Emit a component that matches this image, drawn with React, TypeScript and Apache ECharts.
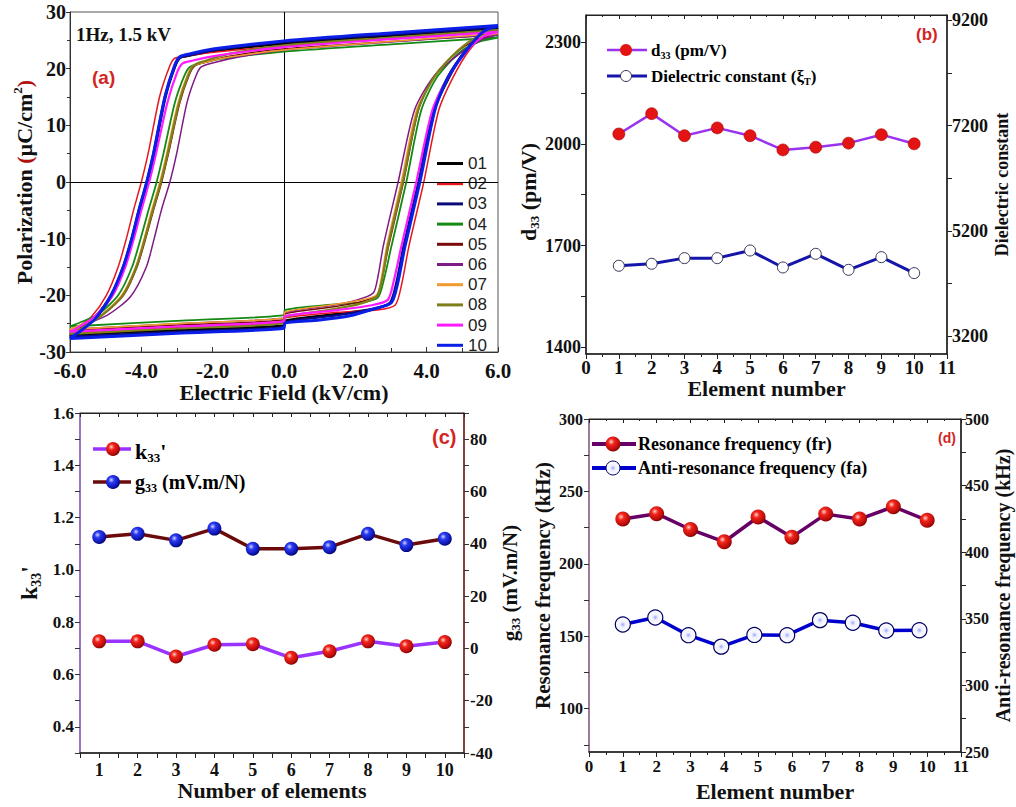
import React, { useEffect, useRef } from "react";
import * as echarts from "echarts";

// ---------------- Panel (a): P–E hysteresis loops  [E (kV/cm), P (µC/cm²)] ----------------
const loopNames = ["01", "02", "03", "04", "05", "06", "07", "08", "09", "10"];
const loopColors = ["#000000", "#e8161b", "#0a0a78", "#138a13", "#7a0a0a", "#7e1a86", "#f39a2e", "#7f7f1a", "#ff1aff", "#0a1ee6"];

const loop01 = [[6, 27.1], [3, 25.8], [0, 24.4], [-1.95, 23.1], [-2.65, 22.3], [-2.92, 21.9], [-3.07, 20.3], [-3.34, 15], [-3.66, 5], [-3.85, 0], [-4.07, -5], [-4.27, -10], [-4.51, -15], [-4.85, -20], [-5.3, -23.8], [-5.75, -26.0], [-6, -27.0], [-3, -26.15], [0, -25.3], [0.02, -24.5], [1.5, -23.3], [2.49, -22.4], [2.99, -21.3], [3.17, -17.8], [3.37, -11.4], [3.79, 0], [4.21, 12.7], [4.64, 18.6], [5.1, 23.3], [5.55, 26.1], [6, 27.1]];
const loop02 = [[6, 26.6], [3, 25.3], [0, 24.0], [-2.1, 22.8], [-2.8, 22.15], [-3.07, 21.8], [-3.22, 20.2], [-3.49, 15], [-3.81, 5], [-4.0, 0], [-4.22, -5], [-4.42, -10], [-4.65, -15], [-4.98, -20], [-5.4, -23.8], [-5.78, -25.6], [-6, -26.5], [-3, -25.65], [0, -24.8], [0.02, -24.0], [1.5, -23.0], [2.62, -22.6], [3.12, -21.7], [3.3, -18], [3.5, -11.4], [3.92, 0], [4.34, 12.7], [4.75, 18.6], [5.2, 23.3], [5.6, 25.7], [6, 26.6]];
const loop03 = [[6, 27.3], [3, 26.0], [0, 24.7], [-1.93, 23.3], [-2.63, 22.4], [-2.9, 22.0], [-3.05, 20.4], [-3.32, 15], [-3.64, 5], [-3.83, 0], [-4.05, -5], [-4.25, -10], [-4.49, -15], [-4.83, -20], [-5.3, -24.0], [-5.75, -26.2], [-6, -27.3], [-3, -26.45], [0, -25.6], [0.02, -24.8], [1.5, -23.5], [2.47, -22.5], [2.97, -21.3], [3.15, -17.8], [3.35, -11.4], [3.77, 0], [4.19, 12.7], [4.6, 18.6], [5.1, 23.3], [5.55, 26.3], [6, 27.3]];
const loop04 = [[6, 25.5], [3, 24.3], [0, 23.0], [-1.67, 21.8], [-2.37, 20.9], [-2.64, 20.3], [-2.79, 18.8], [-3.06, 14], [-3.38, 5], [-3.57, 0], [-3.8, -5], [-4.02, -10], [-4.26, -15], [-4.65, -20], [-5.2, -23.3], [-5.72, -24.8], [-6, -25.5], [-3, -24.5], [0, -23.5], [0.02, -22.6], [1.4, -21.6], [2.13, -21.3], [2.63, -20.4], [2.81, -17], [3.01, -11.4], [3.43, 0], [3.85, 12.7], [4.3, 18.6], [4.95, 23.0], [5.5, 24.8], [6, 25.5]];
const loop05 = [[6, 26.0], [3, 24.8], [0, 23.5], [-1.53, 22.2], [-2.23, 21.1], [-2.5, 20.5], [-2.65, 19.0], [-2.92, 14], [-3.24, 5], [-3.43, 0], [-3.66, -5], [-3.88, -10], [-4.12, -15], [-4.5, -20], [-5.1, -23.5], [-5.7, -25.4], [-6, -26.2], [-3, -25.25], [0, -24.3], [0.02, -23.3], [1.3, -22.1], [2.1, -21.2], [2.6, -20.0], [2.76, -16.8], [2.93, -11.4], [3.35, 0], [3.77, 12.7], [4.2, 18.6], [4.9, 23.2], [5.5, 25.3], [6, 26.0]];
const loop06 = [[6, 26.0], [3, 24.7], [0, 23.3], [-1.3, 22.0], [-2.0, 21.0], [-2.32, 20.3], [-2.47, 18.7], [-2.72, 14], [-3.01, 5], [-3.2, 0], [-3.44, -5], [-3.64, -10], [-3.86, -15], [-4.3, -20.2], [-4.95, -23.5], [-5.65, -25.3], [-6, -26.0], [-3, -25.0], [0, -24.0], [0.02, -23.1], [1.3, -21.8], [2.0, -20.9], [2.5, -19.6], [2.64, -16.5], [2.78, -11.4], [3.2, 0], [3.66, 12.7], [4.2, 18.6], [5.0, 23.0], [5.6, 25.3], [6, 26.0]];
const loop07 = [[6, 26.2], [3, 24.8], [0, 23.3], [-1.58, 22.0], [-2.28, 21.0], [-2.55, 20.5], [-2.7, 19.0], [-2.97, 14], [-3.29, 5], [-3.48, 0], [-3.71, -5], [-3.92, -10], [-4.16, -15], [-4.55, -20], [-5.12, -23.4], [-5.7, -25.2], [-6, -26.0], [-3, -25.0], [0, -24.0], [0.02, -23.0], [1.3, -21.7], [2.1, -20.9], [2.6, -19.9], [2.74, -16.6], [2.88, -11.4], [3.29, 0], [3.72, 12.7], [4.23, 18.6], [4.88, 23.3], [5.4, 25.4], [6, 26.2]];
const loop08 = [[6, 26.8], [3, 25.5], [0, 24.1], [-1.55, 22.6], [-2.25, 21.3], [-2.52, 20.6], [-2.67, 19.0], [-2.94, 14], [-3.26, 5], [-3.45, 0], [-3.68, -5], [-3.9, -10], [-4.14, -15], [-4.52, -20], [-5.12, -23.6], [-5.7, -25.9], [-6, -26.8], [-3, -25.85], [0, -24.9], [0.02, -23.9], [1.3, -22.5], [2.12, -21.5], [2.6, -20.2], [2.76, -16.8], [2.91, -11.4], [3.33, 0], [3.76, 12.7], [4.22, 18.6], [4.92, 23.4], [5.5, 25.9], [6, 26.8]];
const loop09 = [[6, 26.5], [3, 25.2], [0, 23.8], [-1.88, 22.3], [-2.58, 21.4], [-2.85, 20.9], [-3.0, 19.3], [-3.27, 14], [-3.59, 5], [-3.78, 0], [-4.0, -5], [-4.21, -10], [-4.45, -15], [-4.8, -20], [-5.3, -23.7], [-5.75, -25.6], [-6, -26.4], [-3, -25.5], [0, -24.6], [0.02, -23.7], [1.5, -22.6], [2.41, -21.8], [2.91, -20.8], [3.08, -17.4], [3.29, -11.4], [3.71, 0], [4.16, 12.7], [4.62, 18.6], [5.15, 23.3], [5.6, 25.7], [6, 26.5]];
const loop10 = [[6, 27.6], [3, 26.3], [0, 24.9], [-1.95, 23.5], [-2.65, 22.6], [-2.92, 22.1], [-3.07, 20.5], [-3.34, 15], [-3.66, 5], [-3.85, 0], [-4.07, -5], [-4.27, -10], [-4.51, -15], [-4.85, -20], [-5.3, -24.2], [-5.75, -26.5], [-6, -27.6], [-3, -26.7], [0, -25.8], [0.02, -24.9], [1.0, -24.35], [1.85, -23.6], [2.51, -22.4], [3.01, -21.3], [3.19, -17.8], [3.39, -11.4], [3.81, 0], [4.23, 12.7], [4.61, 18.6], [5.12, 23.3], [5.58, 26.5], [6, 27.6]];
const loops = [loop01, loop02, loop03, loop04, loop05, loop06, loop07, loop08, loop09, loop10];

// ---------------- Panels (b)-(d) ----------------
const elements = [1, 2, 3, 4, 5, 6, 7, 8, 9, 10];
const d33 = [2029, 2089, 2024, 2047, 2024, 1982, 1990, 2002, 2027, 2000];
const dielectric = [4536, 4574, 4681, 4681, 4826, 4504, 4763, 4459, 4700, 4397];
const k33 = [0.727, 0.727, 0.669, 0.714, 0.716, 0.664, 0.689, 0.727, 0.708, 0.724];
const g33 = [42.6, 43.8, 41.3, 45.8, 38.1, 38.1, 38.7, 43.8, 39.5, 41.9];
const fr = [230.9, 234.6, 223.7, 215.2, 232.3, 218.4, 234.3, 230.9, 239.4, 230.0];
const faElement = [1, 1.96, 2.94, 3.91, 4.89, 5.86, 6.83, 7.8, 8.79, 9.77];
const fa = [345.7, 351.0, 337.7, 329.1, 337.9, 337.7, 349.0, 347.0, 341.2, 341.4];

// tick / label values
const bLeftLabels = [1400, 1700, 2000, 2300];
const bLeftTicks = [1400, 1550, 1700, 1850, 2000, 2150, 2300];
const bRightLabels = [3200, 5200, 7200, 9200];
const bRightTicks = [3200, 4200, 5200, 6200, 7200, 8200, 9200];
const cXTicks = [0.5, 1, 1.5, 2, 2.5, 3, 3.5, 4, 4.5, 5, 5.5, 6, 6.5, 7, 7.5, 8, 8.5, 9, 9.5, 10, 10.5];
const cLeftLabels = [0.4, 0.6, 0.8, 1.0, 1.2, 1.4, 1.6];
const cLeftTicks = [0.3, 0.4, 0.5, 0.6, 0.7, 0.8, 0.9, 1.0, 1.1, 1.2, 1.3, 1.4, 1.5, 1.6];
const cRightLabels = [-40, -20, 0, 20, 40, 60, 80];
const cRightTicks = [-40, -30, -20, -10, 0, 10, 20, 30, 40, 50, 60, 70, 80, 90];
const dLeftLabels = [100, 150, 200, 250, 300];
const dLeftTicks = [75, 100, 125, 150, 175, 200, 225, 250, 275, 300];

const serif = '"Liberation Serif", "Times New Roman", serif';
const sans = '"Liberation Sans", Arial, sans-serif';

const plain = (v: number) => String(v);

const lab = (size: number, extra: any = {}) => ({
  fontFamily: serif, fontWeight: "bold", fontSize: size, color: "#111", ...extra,
});

const richSet = (size: number, color: string) => ({
  b: { fontFamily: serif, fontWeight: "bold", fontSize: size, color, lineHeight: size + 4 },
  s: { fontFamily: serif, fontWeight: "bold", fontSize: Math.round(size * 0.6), color, lineHeight: 8, verticalAlign: "bottom" },
  p: { fontFamily: serif, fontWeight: "bold", fontSize: Math.round(size * 0.6), color, lineHeight: 8, verticalAlign: "top" },
  r: { fontFamily: serif, fontWeight: "bold", fontSize: size, color: "#b01010", lineHeight: size + 4 },
});

const noSplit = { show: false };

function sphere(kind: "red" | "blue") {
  const stops = kind === "red"
    ? [
        { offset: 0, color: "#ffd2c8" },
        { offset: 0.3, color: "#f2241a" },
        { offset: 0.8, color: "#b40a0a" },
        { offset: 1, color: "#6e0000" },
      ]
    : [
        { offset: 0, color: "#d0d6ff" },
        { offset: 0.3, color: "#2a3af2" },
        { offset: 0.8, color: "#0a12a8" },
        { offset: 1, color: "#000050" },
      ];
  return new echarts.graphic.RadialGradient(0.38, 0.35, 0.7, stops);
}

function hollow() {
  return new echarts.graphic.RadialGradient(0.5, 0.5, 0.5, [
    { offset: 0, color: "#9aa6ff" },
    { offset: 0.35, color: "#eef0ff" },
    { offset: 1, color: "#ffffff" },
  ]);
}

function topMirror(gridIndex: number, min: number, max: number, color = "#222", ticks?: number[]) {
  return {
    gridIndex, type: "value", position: "top", min, max,
    ...(ticks ? {} : { interval: 1 }),
    axisLine: { show: true, onZero: false, lineStyle: { color, width: 1.2 } },
    axisTick: ticks ? { show: true, inside: true, length: 4, customValues: ticks } : { show: true, inside: true, length: 4 },
    minorTick: ticks ? { show: false } : { show: true, splitNumber: 2, length: 2 },
    axisLabel: { show: false },
    splitLine: noSplit,
  };
}

function buildOption(): any {
  const loopSeries = loops.map((data, i) => ({
    name: loopNames[i],
    type: "line",
    xAxisIndex: 0,
    yAxisIndex: 0,
    data,
    symbol: "none",
    smooth: 0.25,
    lineStyle: { color: loopColors[i], width: [2.4, 1.5, 2.4, 1.8, 1.5, 1.5, 1.6, 2.2, 2.2, 3][i] },
    itemStyle: { color: loopColors[i] },
    z: 2 + i,
    ...(i === 0
      ? {
          markLine: {
            silent: true,
            symbol: ["none", "none"],
            label: { show: false },
            lineStyle: { color: "#000", width: 1, type: "solid" },
            data: [{ xAxis: 0 }, { yAxis: 0 }],
          },
        }
      : {}),
  }));

  const legendText = (x: number, y: number, text: string, color: string, size: number) => ({
    type: "text", x, y, z: 100,
    style: { text, rich: richSet(size, color), verticalAlign: "middle", align: "left" },
  });
  const legendLine = (x1: number, x2: number, y: number, stroke: string, w: number) => ({
    type: "line", z: 99, shape: { x1, y1: y, x2, y2: y }, style: { stroke, lineWidth: w },
  });
  const legendDot = (cx: number, cy: number, r: number, fill: any, stroke?: string) => ({
    type: "circle", z: 100, shape: { cx, cy, r }, style: { fill, stroke: stroke || null, lineWidth: stroke ? 1 : 0 },
  });
  const panelTag = (x: number, y: number, text: string, size: number) => ({
    type: "text", x, y, z: 100,
    style: { text, fontFamily: sans, fontWeight: "bold", fontSize: size, fill: "#d42424", verticalAlign: "middle", align: "left" },
  });

  return {
    animation: false,
    backgroundColor: "#ffffff",
    grid: [
      { left: 70, top: 12, width: 428, height: 340, show: true, borderColor: "#555", borderWidth: 1 },
      { left: 586, top: 15, width: 361, height: 339, show: true, borderColor: "#222", borderWidth: 1 },
      { left: 80, top: 413, width: 384, height: 340, show: true, borderColor: "#222", borderWidth: 1 },
      { left: 589, top: 419, width: 372, height: 333, show: true, borderColor: "#222", borderWidth: 1 },
    ],
    legend: {
      data: loopNames,
      orient: "vertical",
      left: 437,
      top: 155,
      padding: 0,
      icon: "rect",
      itemWidth: 26,
      itemHeight: 3,
      itemGap: 3.2,
      textStyle: { fontFamily: sans, fontSize: 17, lineHeight: 16, color: "#222" },
      backgroundColor: "transparent",
      selectedMode: false,
    },
    xAxis: [
      // (a)
      {
        gridIndex: 0, type: "value", min: -6, max: 6, interval: 2,
        axisLine: { onZero: false, lineStyle: { color: "#333", width: 1 } },
        axisTick: { inside: true, length: 5 },
        minorTick: { show: true, splitNumber: 2, length: 4 },
        axisLabel: { ...lab(21), margin: 8, formatter: (v: number) => v.toFixed(1) },
        splitLine: noSplit,
        name: "Electric Field (kV/cm)", nameLocation: "middle", nameGap: 27,
        nameTextStyle: lab(22),
      },
      // (b) bottom
      {
        gridIndex: 1, type: "value", min: 0, max: 11, interval: 1,
        axisLine: { onZero: false, lineStyle: { color: "#222", width: 1.5 } },
        axisTick: { length: 5 }, minorTick: { show: true, splitNumber: 2, length: 3 },
        axisLabel: { ...lab(19), margin: 4 },
        splitLine: noSplit,
        name: "Element number", nameLocation: "middle", nameGap: 22,
        nameTextStyle: lab(22, { letterSpacing: 1 }),
      },
      topMirror(1, 0, 11),
      // (c) bottom
      {
        gridIndex: 2, type: "value", min: 0.5, max: 10.5,
        axisLine: { onZero: false, lineStyle: { color: "#222", width: 1.5 } },
        axisTick: { length: 5, customValues: cXTicks },
        axisLabel: { ...lab(18), margin: 8, customValues: elements, formatter: plain },
        splitLine: noSplit,
        name: "Number of elements", nameLocation: "middle", nameGap: 26,
        nameTextStyle: lab(22),
      },
      topMirror(2, 0.5, 10.5, "#222", cXTicks),
      // (d) bottom
      {
        gridIndex: 3, type: "value", min: 0, max: 11, interval: 1,
        axisLine: { onZero: false, lineStyle: { color: "#222", width: 1.5 } },
        axisTick: { length: 5 }, minorTick: { show: true, splitNumber: 2, length: 3 },
        axisLabel: { ...lab(17), margin: 6 },
        splitLine: noSplit,
        name: "Element number", nameLocation: "middle", nameGap: 28,
        nameTextStyle: lab(22, { letterSpacing: 1 }),
      },
      topMirror(3, 0, 11),
    ],
    yAxis: [
      // (a)
      {
        gridIndex: 0, type: "value", min: -30, max: 30, interval: 10,
        axisLine: { onZero: false, lineStyle: { color: "#333", width: 1 } },
        axisTick: { length: 4 }, minorTick: { show: true, splitNumber: 2, length: 3 },
        axisLabel: { ...lab(20), margin: 4, formatter: plain },
        splitLine: noSplit,
        name: "{b|Polarization }{r|(}{b|µC/cm}{p|2}{r|)}",
        nameLocation: "middle", nameGap: 32, nameRotate: 90,
        nameTextStyle: { rich: richSet(22, "#111") },
      },
      // (b) left
      {
        gridIndex: 1, type: "value", min: 1380, max: 2380, position: "left",
        axisLine: { show: true, onZero: false, lineStyle: { color: "#222", width: 1.5 } },
        axisTick: { show: true, length: 5, customValues: bLeftTicks },
        axisLabel: { ...lab(18), margin: 5, customValues: bLeftLabels, formatter: plain },
        splitLine: noSplit,
        name: "{b|d}{s|33}{b| (pm/V)}",
        nameLocation: "middle", nameGap: 40, nameRotate: 90,
        nameTextStyle: { rich: richSet(22, "#111"), padding: [0, 15, 0, 0] },
      },
      // (b) right
      {
        gridIndex: 1, type: "value", min: 2860, max: 9300, position: "right",
        axisLine: { show: true, onZero: false, lineStyle: { color: "#222", width: 1.5 } },
        axisTick: { show: true, length: 5, customValues: bRightTicks },
        axisLabel: { ...lab(18), margin: 5, customValues: bRightLabels, formatter: plain },
        splitLine: noSplit,
        name: "Dielectric constant",
        nameLocation: "middle", nameGap: 46, nameRotate: 90,
        nameTextStyle: lab(18),
      },
      // (c) left
      {
        gridIndex: 2, type: "value", min: 0.3, max: 1.6, position: "left",
        axisLine: { show: true, onZero: false, lineStyle: { color: "#9a6fd0", width: 1.5 } },
        axisTick: { show: true, length: 5, customValues: cLeftTicks, lineStyle: { color: "#333" } },
        axisLabel: { ...lab(17), margin: 6, customValues: cLeftLabels, formatter: (v: number) => v.toFixed(1) },
        splitLine: noSplit,
        name: "{b|k}{s|33}{b|'}",
        nameLocation: "middle", nameGap: 37, nameRotate: 90,
        nameTextStyle: { rich: richSet(24, "#111") },
      },
      // (c) right
      {
        gridIndex: 2, type: "value", min: -40, max: 90, position: "right",
        axisLine: { show: true, onZero: false, lineStyle: { color: "#7a2a2a", width: 1.5 } },
        axisTick: { show: true, length: 5, customValues: cRightTicks, lineStyle: { color: "#333" } },
        axisLabel: { ...lab(17), margin: 6, customValues: cRightLabels, formatter: plain },
        splitLine: noSplit,
        name: "{b|g}{s|33}{b| (mV.m/N)}",
        nameLocation: "middle", nameGap: 33, nameRotate: 90,
        nameTextStyle: { rich: richSet(21, "#111") },
      },
      // (d) left
      {
        gridIndex: 3, type: "value", min: 70, max: 300, position: "left",
        axisLine: { show: true, onZero: false, lineStyle: { color: "#a074a0", width: 1.5 } },
        axisTick: { show: true, length: 5, customValues: dLeftTicks, lineStyle: { color: "#333" } },
        axisLabel: { ...lab(16), margin: 6, customValues: dLeftLabels, formatter: plain },
        splitLine: noSplit,
        name: "Resonance frequency (kHz)",
        nameLocation: "middle", nameGap: 36, nameRotate: 90,
        nameTextStyle: lab(21),
      },
      // (d) right
      {
        gridIndex: 3, type: "value", min: 250, max: 500, interval: 50, position: "right",
        axisLine: { show: true, onZero: false, lineStyle: { color: "#222", width: 1.5 } },
        axisTick: { show: true, length: 5 }, minorTick: { show: true, splitNumber: 2, length: 5 },
        axisLabel: { ...lab(16), margin: 4, formatter: plain },
        splitLine: noSplit,
        name: "Anti-resonance frequency (kHz)",
        nameLocation: "middle", nameGap: 30, nameRotate: 90,
        nameTextStyle: lab(20),
      },
    ],
    series: [
      ...loopSeries,
      {
        name: "d33", type: "line", xAxisIndex: 1, yAxisIndex: 1,
        data: elements.map((e, i) => [e, d33[i]]),
        symbol: "circle", symbolSize: 12,
        lineStyle: { color: "#9933ee", width: 2.5 },
        itemStyle: { color: "#e41414", borderColor: "#a00", borderWidth: 0.6 },
        z: 5,
      },
      {
        name: "Dielectric constant", type: "line", xAxisIndex: 1, yAxisIndex: 2,
        data: elements.map((e, i) => [e, dielectric[i]]),
        symbol: "circle", symbolSize: 11,
        lineStyle: { color: "#1515aa", width: 3 },
        itemStyle: { color: "#ffffff", borderColor: "#333355", borderWidth: 1 },
        z: 5,
      },
      {
        name: "k33'", type: "line", xAxisIndex: 3, yAxisIndex: 3,
        data: elements.map((e, i) => [e, k33[i]]),
        symbol: "circle", symbolSize: 14,
        lineStyle: { color: "#9933ff", width: 3.5 },
        itemStyle: { color: sphere("red") },
        z: 5,
      },
      {
        name: "g33", type: "line", xAxisIndex: 3, yAxisIndex: 4,
        data: elements.map((e, i) => [e, g33[i]]),
        symbol: "circle", symbolSize: 14,
        lineStyle: { color: "#6b0a0a", width: 3.5 },
        itemStyle: { color: sphere("blue") },
        z: 5,
      },
      {
        name: "fr", type: "line", xAxisIndex: 5, yAxisIndex: 5,
        data: elements.map((e, i) => [e, fr[i]]),
        symbol: "circle", symbolSize: 15,
        lineStyle: { color: "#660066", width: 3.5 },
        itemStyle: { color: sphere("red") },
        z: 5,
      },
      {
        name: "fa", type: "line", xAxisIndex: 5, yAxisIndex: 6,
        data: faElement.map((e, i) => [e, fa[i]]),
        symbol: "circle", symbolSize: 15,
        lineStyle: { color: "#0000cc", width: 3.5 },
        itemStyle: { color: hollow(), borderColor: "#000066", borderWidth: 1.2 },
        z: 5,
      },
    ],
    graphic: [
      {
        type: "text", x: 76, y: 34, z: 100,
        style: { text: "1Hz, 1.5 kV", fontFamily: serif, fontWeight: "bold", fontSize: 19, fill: "#111", verticalAlign: "middle", align: "left" },
      },
      panelTag(92, 77, "(a)", 19),
      panelTag(916, 34, "(b)", 17),
      panelTag(432, 437, "(c)", 20),
      panelTag(938, 438, "(d)", 14),
      // (b) legend
      legendLine(607, 647, 50, "#9933ee", 2.5),
      legendDot(626, 50, 6, "#e41414"),
      legendText(651, 50, "{b|d}{s|33}{b| (pm/V)}", "#e02020", 17),
      legendLine(607, 647, 76, "#1515aa", 3),
      legendDot(626, 76, 5.5, "#ffffff", "#333355"),
      legendText(651, 76, "{b|Dielectric constant (ξ}{s|T}{b|)}", "#1a1a80", 17),
      // (c) legend
      legendLine(93, 131, 449, "#9933ff", 3.5),
      legendDot(113, 449, 7, sphere("red")),
      legendText(135, 451, "{b|k}{s|33}{b|'}", "#e02020", 22),
      legendLine(93, 131, 482, "#6b0a0a", 3.5),
      legendDot(113, 482, 7, sphere("blue")),
      legendText(135, 482, "{b|g}{s|33}{b| (mV.m/N)}", "#1a1a70", 20),
      // (d) legend
      legendLine(592, 636, 444, "#660066", 4),
      legendDot(613, 444, 7.5, sphere("red")),
      legendText(638, 444, "{b|Resonance frequency (fr)}", "#e02020", 18),
      legendLine(592, 636, 468, "#0000cc", 4),
      legendDot(613, 468, 7, hollow(), "#000066"),
      legendText(638, 468, "{b|Anti-resonance frequency (fa)}", "#1a1a80", 18),
    ],
  };
}

export default function App() {
  const ref = useRef<HTMLDivElement>(null);
  useEffect(() => {
    if (!ref.current) return;
    const chart = echarts.init(ref.current, null, { renderer: "svg" });
    chart.setOption(buildOption());
    return () => chart.dispose();
  }, []);
  return (
    <div
      ref={ref}
      style={{ position: "fixed", left: 0, top: 0, width: 1016, height: 807, background: "#fff" }}
    />
  );
}
